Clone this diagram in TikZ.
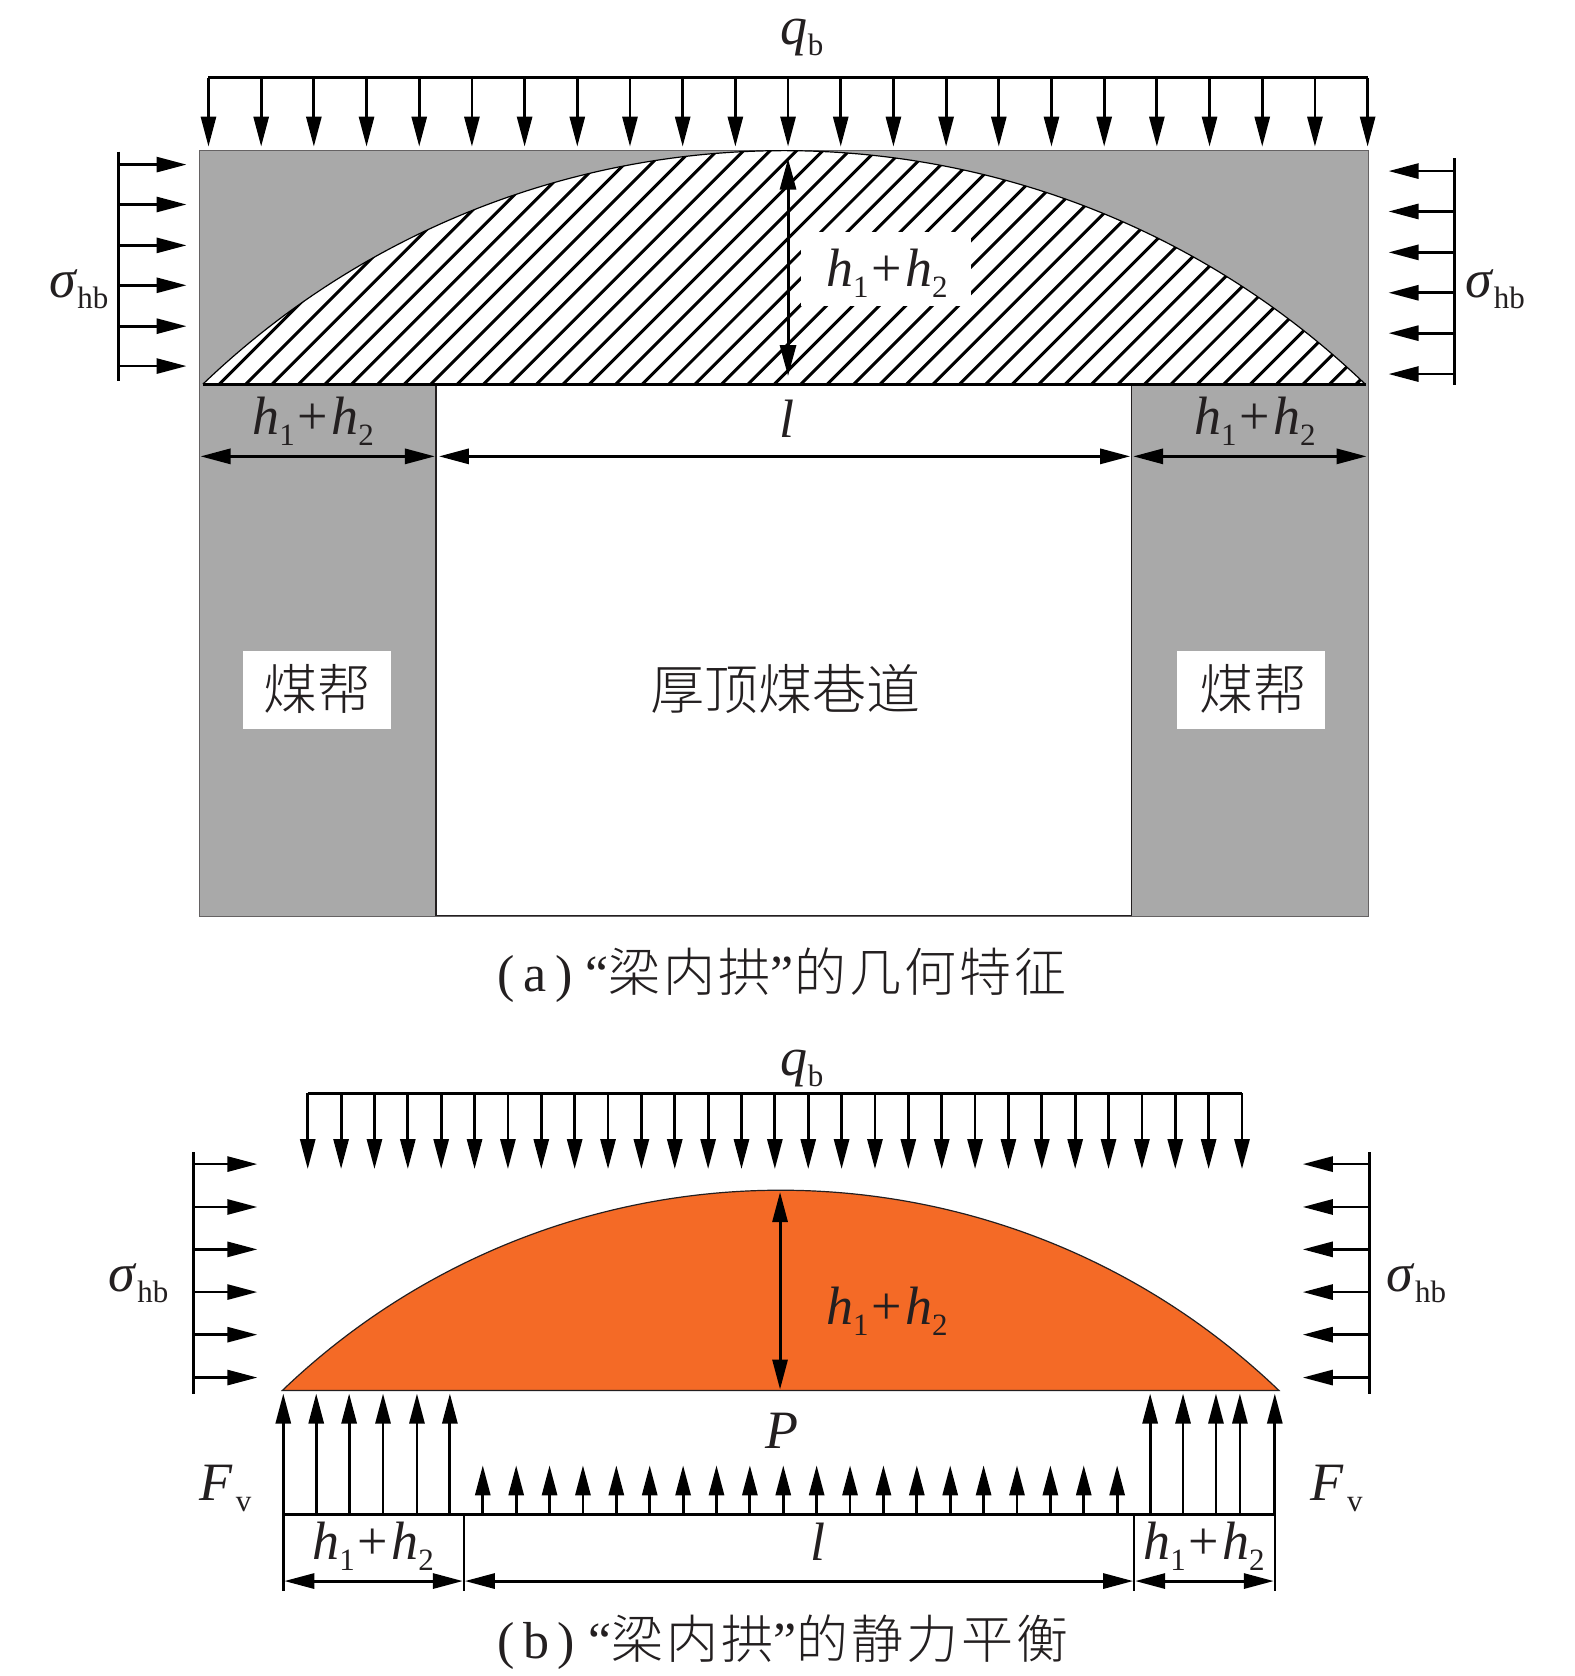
\documentclass[tikz,border=0pt]{standalone}
\usepackage{fontspec}
\setmainfont{Liberation Serif}
\newfontfamily\cjk{Noto Sans CJK SC Light}
\newfontfamily\cjkcap[LetterSpace=6]{Noto Sans CJK SC Light}
\usetikzlibrary{arrows.meta}
\definecolor{coalgray}{HTML}{A9A9A9}
\definecolor{archorange}{HTML}{F46A26}
\definecolor{inkblack}{HTML}{231F20}
\newcommand{\lowsub}[1]{\raisebox{-11pt}{\fontsize{31}{31}\selectfont #1}}
\newcommand{\hsum}{\textit{h}\lowsub{1}\hspace{3pt}+\hspace{3pt}\textit{h}\lowsub{2}}
\newcommand{\sighb}{\textit{σ}\lowsub{hb}}
\newcommand{\qb}{\textit{q}\lowsub{b}}
\newcommand{\fv}{\textit{F}\hspace{3pt}\lowsub{v}}
\tikzset{
        x=0.9975pt, y=-0.9975pt, % coordinates are pixels of the figure
        inkblack,
        >={Triangle[length=30pt,width=15pt]},
        load/.style={->, line width=2.8pt}, % arrows of the distributed loads
        rakebar/.style={line width=3pt},
        dim/.style={<->, line width=3pt},
        gapdim/.style={{Triangle[length=31pt,width=16pt,sep=7pt]}-{Triangle[length=31pt,width=16pt,sep=7pt]}, line width=3pt},
        tick/.style={line width=2.6pt},
        wall/.style={fill=coalgray, draw=inkblack!70, line width=1pt},
        sym/.style={font=\fontsize{54}{54}\selectfont, inner sep=0pt},
        cjklabel/.style={font=\fontsize{54}{54}\selectfont\cjk, inner sep=0pt},
        caption/.style={font=\fontsize{52}{52}\selectfont\cjkcap, inner sep=0pt},
        }
\begin{document}
\begin{tikzpicture}
        \useasboundingbox (0,0) rectangle (1578.9,1680.2);
        % (a) geometry of the arch in the beam
        \fill[white] (0,0) rectangle (1578.9,1680.2);
        \draw[wall] (200,150.5) rectangle (1371.5,919);
        \draw[fill=white, draw=inkblack, line width=1.5pt] (437,385.5) rectangle (1134.5,918);
        \fill[white] (203.5,385) arc[start angle=133.77, end angle=46.23, radius=840pt] -- cycle;
        \begin{scope}
                \clip (203.5,385) arc[start angle=133.77, end angle=46.23, radius=840pt] -- cycle;
                \foreach \i in {-1,...,58}
                        \draw[line width=3pt] ({220+26.5*\i},385) -- ++(300,-300);
        \end{scope}
        \draw[line width=1.2pt] (203.5,385) arc[start angle=133.77, end angle=46.23, radius=840pt];
        \draw[line width=3pt] (203.5,385) -- (1369,385);
        \node[fill=white, minimum width=170pt, minimum height=74pt, inner sep=0pt] (archbox) at (888,270) {};
        \node[sym] (archh) at (889,274) {\hsum};
        % loads on the beam
        \draw[rakebar] (209,78) -- (1371,78);
        \foreach \i in {0,...,22}
                \draw[load] ({209+\i*52.82},78) -- ++(0,69);
        \draw[rakebar] (119,152) -- (119,382);
        \foreach \v in {165,205,246,286,327,367}
                \draw[load] (119,\v) -- (187,\v);
        \draw[rakebar] (1458,158.5) -- (1458,386);
        \foreach \v in {171.5,212,253,293.5,334,375}
                \draw[load] (1458,\v) -- (1392,\v);
        \draw[gapdim] (790,152) -- (790,384);
        \draw[dim] (201,457.5) -- (436,457.5);
        \draw[dim] (440,457.5) -- (1133,457.5);
        \draw[dim] (1136,457.5) -- (1370,457.5);
        \node[sym] (qtop) at (804,38) {\qb};
        \node[sym] (sigleft) at (79,290) {\sighb};
        \node[sym] (sigright) at (1499,290) {\sighb};
        \node[sym] (hleft) at (314,422) {\hsum};
        \node[sym] (lspan) at (789,420) {\textit{l}};
        \node[sym] (hright) at (1258,422) {\hsum};
        \node[fill=white, minimum width=148pt, minimum height=78pt, inner sep=0pt] (boxleft) at (318,691.5) {};
        \node[fill=white, minimum width=148pt, minimum height=78pt, inner sep=0pt] (boxright) at (1254.5,691.5) {};
        \node[cjklabel] (ribleft) at (318,691) {煤帮};
        \node[cjklabel] (ribright) at (1257,691) {煤帮};
        \node[cjklabel] (roadway) at (787,691) {厚顶煤巷道};
        \node[caption] (capa) at (784,978) {{\rmfamily (\,a\,)\ “}梁内拱{\rmfamily ”}的几何特征};
        % (b) static balance of the arch
        \draw[fill=archorange, draw=inkblack, line width=1.2pt] (283,1394) arc[start angle=133.8, end angle=46.2, radius=720pt] -- cycle;
        \draw[dim] (782,1195) -- (782,1393);
        \node[sym] (archhb) at (889,1315) {\hsum};
        \draw[rakebar] (308.5,1096) -- (1245,1096);
        \foreach \i in {0,...,28}
                \draw[load] ({308.5+\i*33.45},1096) -- ++(0,76);
        \draw[rakebar] (194,1155) -- (194,1397);
        \draw[rakebar] (1372.5,1155) -- (1372.5,1397);
        \foreach \v in {1167,1210,1252.5,1295.3,1338,1381} {
                \draw[load] (194,\v) -- (258,\v);
                \draw[load] (1372.5,\v) -- (1306,\v);
        }
        \draw[rakebar] (284,1518) -- (1278,1518);
        \foreach \u in {284,317,350,384,418,451,1153,1186,1219,1243,1278}
                \draw[load] (\u,1518) -- (\u,1397);
        \foreach \i in {0,...,19}
                \draw[load] ({484+\i*33.47},1518) -- ++(0,-49);
        \foreach \u in {284,465,1137,1278}
                \draw[tick] (\u,1518) -- (\u,1595);
        \draw[dim] (285,1585) -- (464,1585);
        \draw[dim] (466,1585) -- (1136,1585);
        \draw[dim] (1138,1585) -- (1277,1585);
        \node[sym] (qbot) at (804,1071) {\qb};
        \node[sym] (sigleftb) at (139,1286) {\sighb};
        \node[sym] (sigrightb) at (1420,1286) {\sighb};
        \node[sym] (pload) at (784,1434) {\textit{P}};
        \node[sym] (fleft) at (226,1492) {\fv};
        \node[sym] (fright) at (1340,1492) {\fv};
        \node[sym] (hleftb) at (374,1550) {\hsum};
        \node[sym] (lspanb) at (820,1546) {\textit{l}};
        \node[sym] (hrightb) at (1207,1550) {\hsum};
        \node[caption] (capb) at (785,1646) {{\rmfamily (\,b\,)\ “}梁内拱{\rmfamily ”}的静力平衡};
\end{tikzpicture}
\end{document}
